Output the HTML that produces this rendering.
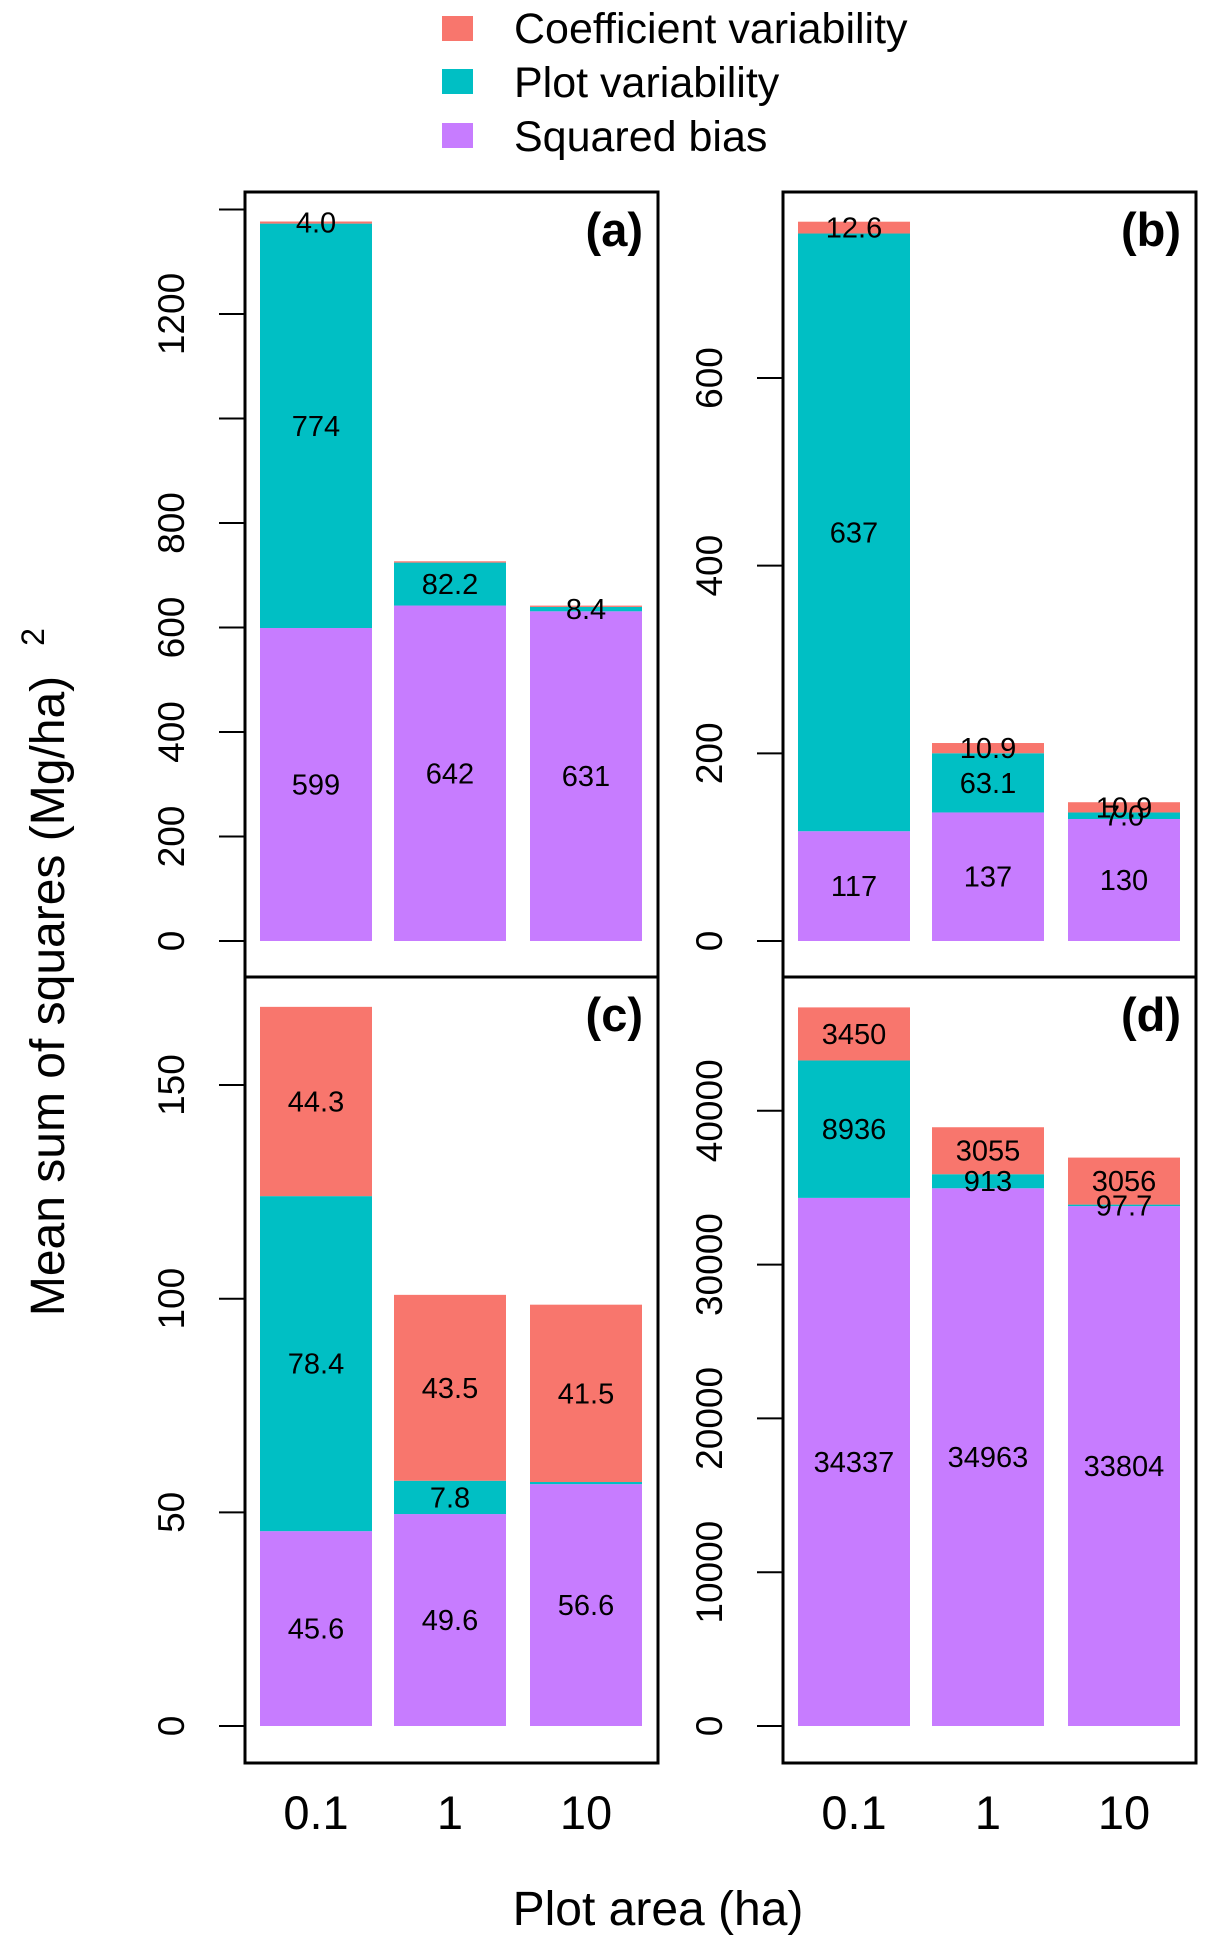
<!DOCTYPE html>
<html><head><meta charset="utf-8"><style>
body{margin:0;background:#fff}
svg{display:block;font-family:"Liberation Sans",sans-serif}
</style></head><body>
<svg id="chart" width="1207" height="1950" viewBox="0 0 1207 1950" xmlns="http://www.w3.org/2000/svg">
<g>
<rect x="442" y="16" width="31" height="25" fill="#F8766D"/>
<text x="514" y="43" font-size="43">Coefficient variability</text>
<rect x="442" y="69" width="31" height="25" fill="#00BFC4"/>
<text x="514" y="97" font-size="43">Plot variability</text>
<rect x="442" y="123" width="31" height="25" fill="#C77CFF"/>
<text x="514" y="151" font-size="43">Squared bias</text>
</g>
<text transform="translate(64,996) rotate(-90)" font-size="48" text-anchor="middle">Mean sum of squares (Mg/ha)</text>
<text transform="translate(44,637) rotate(-90)" font-size="32" text-anchor="middle">2</text>
<text x="658" y="1925" font-size="48" text-anchor="middle">Plot area (ha)</text>
</svg>
<script>
const categories = ["0.1","1","10"];
const biasA = [599,642,631], plotA = [774,82.2,8.4], coefA = [4.0,2.5,2.5];
const labBiasA = ["599","642","631"], labPlotA = ["774","82.2","8.4"], labCoefA = ["4.0","",""];
const biasB = [117,137,130], plotB = [637,63.1,7.0], coefB = [12.6,10.9,10.9];
const labBiasB = ["117","137","130"], labPlotB = ["637","63.1","7.0"], labCoefB = ["12.6","10.9","10.9"];
const biasC = [45.6,49.6,56.6], plotC = [78.4,7.8,0.5], coefC = [44.3,43.5,41.5];
const labBiasC = ["45.6","49.6","56.6"], labPlotC = ["78.4","7.8",""], labCoefC = ["44.3","43.5","41.5"];
const biasD = [34337,34963,33804], plotD = [8936,913,97.7], coefD = [3450,3055,3056];
const labBiasD = ["34337","34963","33804"], labPlotD = ["8936","913","97.7"], labCoefD = ["3450","3055","3056"];
const ticksA = [0,200,400,600,800,1000,1200,1400], tickLabA = ["0","200","400","600","800","","1200",""];
const ticksB = [0,200,400,600], tickLabB = ["0","200","400","600"];
const ticksC = [0,50,100,150], tickLabC = ["0","50","100","150"];
const ticksD = [0,10000,20000,30000,40000], tickLabD = ["0","10000","20000","30000","40000"];

const NS="http://www.w3.org/2000/svg";
const svg=document.getElementById("chart");
function mk(tag,attrs,parent){const e=document.createElementNS(NS,tag);for(const k in attrs)e.setAttribute(k,attrs[k]);(parent||svg).appendChild(e);return e;}
const COL={coef:"#F8766D",plot:"#00BFC4",bias:"#C77CFF"};
function panel(id,box,zeroY,scale,bias,plot,coef,lb,lp,lc,ticks,tickLab,showX){
  const g=mk("g",{});
  
  
  const y=v=>zeroY-v*scale;
  const bx=[box.x0+15,box.x0+149,box.x0+285], bw=112;
  for(let i=0;i<categories.length;i++){
    const segs=[["bias",0,bias[i],lb[i]],["plot",bias[i],bias[i]+plot[i],lp[i]],["coef",bias[i]+plot[i],bias[i]+plot[i]+coef[i],lc[i]]];
    for(const s of segs){
      const r=mk("rect",{x:bx[i],y:y(s[2]),width:bw,height:Math.max(0,y(s[1])-y(s[2])),fill:COL[s[0]]},g);
      
      
    }
    for(const s of segs){
      if(!s[3])continue;
      const t=mk("text",{x:bx[i]+bw/2,y:(y(s[1])+y(s[2]))/2+10,"font-size":29,"text-anchor":"middle"},g);
      t.textContent=s[3];
      
      
    }
    if(showX){
      const t=mk("text",{x:bx[i]+bw/2,y:1829,"font-size":47,"text-anchor":"middle"},g);
      t.textContent=categories[i];
      
      
    }
  }
  const fr=mk("rect",{x:box.x0,y:box.y0,width:box.x1-box.x0,height:box.y1-box.y0,fill:"none",stroke:"#000","stroke-width":3},g);
  
  
  ticks.forEach((v,k)=>{
    const l=mk("line",{x1:box.x0-26,x2:box.x0,y1:y(v),y2:y(v),stroke:"#000","stroke-width":2},g);
    
    
    if(tickLab[k]){
      const t=mk("text",{transform:`translate(${box.x0-61},${y(v)}) rotate(-90)`,"font-size":37,"text-anchor":"middle"},g);
      t.textContent=tickLab[k];
      
      
    }
  });
  const tl=mk("text",{x:box.x1-15,y:box.y0+54,"font-size":47,"font-weight":"bold","text-anchor":"end"},g);
  tl.textContent="("+id+")";
  
  
}
panel("a",{x0:245,x1:658,y0:192,y1:977},941,0.5225,biasA,plotA,coefA,labBiasA,labPlotA,labCoefA,ticksA,tickLabA,false);
panel("b",{x0:783,x1:1196,y0:192,y1:977},941,0.9383,biasB,plotB,coefB,labBiasB,labPlotB,labCoefB,ticksB,tickLabB,false);
panel("c",{x0:245,x1:658,y0:977,y1:1763},1726,4.273,biasC,plotC,coefC,labBiasC,labPlotC,labCoefC,ticksC,tickLabC,true);
panel("d",{x0:783,x1:1196,y0:977,y1:1763},1726,0.01538,biasD,plotD,coefD,labBiasD,labPlotD,labCoefD,ticksD,tickLabD,true);
</script>
</body></html>
